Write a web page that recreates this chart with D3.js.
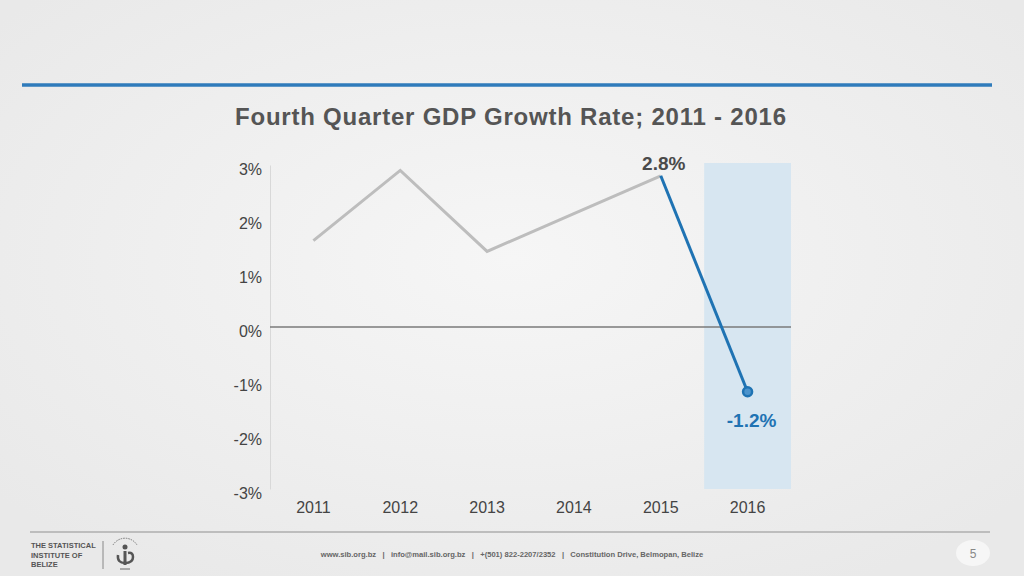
<!DOCTYPE html>
<html><head><meta charset="utf-8">
<script src="https://cdn.jsdelivr.net/npm/d3@7"></script>
<style>
html,body{margin:0;padding:0;background:#eeeeee;}
svg{display:block;font-family:"Helvetica Neue",Helvetica,"Liberation Sans",Arial,sans-serif;}
</style></head>
<body>
<svg id="c" width="1024" height="576"></svg>
<script>
const years = ["2011","2012","2013","2014","2015","2016"];
const growth = [1.6, 2.9, 1.4, 2.1, 2.8, -1.2];
const yTicks = [3, 2, 1, 0, -1, -2, -3];
const title = "Fourth Quarter GDP Growth Rate; 2011 - 2016";
const footerText = "www.sib.org.bz   |   info@mail.sib.org.bz   |   +(501) 822-2207/2352   |   Constitution Drive, Belmopan, Belize";
const pageNumber = "5";

const svg = d3.select("#c");
const defs = svg.append("defs");
const rg = defs.append("radialGradient").attr("id","bg").attr("cx","50%").attr("cy","45%").attr("r","65%");
rg.append("stop").attr("offset","0%").attr("stop-color","#f6f6f6");
rg.append("stop").attr("offset","100%").attr("stop-color","#e9e9e9");
svg.append("rect").attr("width",1024).attr("height",576).attr("fill","url(#bg)");

// top blue rule
svg.append("line").attr("x1",22).attr("x2",992).attr("y1",85).attr("y2",85)
  .attr("stroke","#2f7bbb").attr("stroke-width",3.5);

svg.append("text").attr("x",235).attr("y",125).attr("textLength",551).attr("lengthAdjust","spacing")
  .attr("font-size",24).attr("font-weight","bold").attr("fill","#555555").text(title);

const x = d3.scaleBand().domain(years).range([270, 791]);
const y = d3.scaleLinear().domain([-3, 3]).range([489, 165]);

// highlight band for 2016
svg.append("rect").attr("x", x("2016")).attr("width", x.bandwidth())
  .attr("y", y(3)-2).attr("height", y(-3)-y(3)+2).attr("fill","#d7e6f1");

// y axis
const yAxis = d3.axisLeft(y).tickValues(yTicks).tickSize(0).tickPadding(8).tickFormat(d => d + "%");
const ya = svg.append("g").attr("transform","translate(270,0)").call(yAxis);
ya.select(".domain").attr("stroke","#d8d8d8").attr("stroke-width",1);
ya.selectAll("text").attr("font-size",16).attr("fill","#444").attr("dy","0.6em")
  .attr("font-family","'Helvetica Neue',Helvetica,'Liberation Sans',Arial,sans-serif");

// zero line
svg.append("line").attr("x1",270).attr("x2",791).attr("y1",y(0)).attr("y2",y(0))
  .attr("stroke","#7a7a7a").attr("stroke-width",1.5);

// x axis labels
const xAxis = d3.axisBottom(x).tickSize(0).tickPadding(0);
const xa = svg.append("g").attr("transform","translate(0,502)").call(xAxis);
xa.select(".domain").remove();
xa.selectAll("text").attr("font-size",16).attr("fill","#444")
  .attr("font-family","'Helvetica Neue',Helvetica,'Liberation Sans',Arial,sans-serif");

const pts = years.map((yr,i)=>({yr, v:growth[i]}));
const cx = d => x(d.yr) + x.bandwidth()/2;
const line = d3.line().x(cx).y(d=>y(d.v));

svg.append("path").datum(pts.slice(0,5)).attr("d",line).attr("fill","none")
  .attr("stroke","#bdbdbd").attr("stroke-width",3).attr("stroke-linejoin","miter");
svg.append("path").datum(pts.slice(4,6)).attr("d",line).attr("fill","none")
  .attr("stroke","#1f73b3").attr("stroke-width",3);

const last = pts[5], prev = pts[4];
svg.append("circle").attr("cx",cx(last)).attr("cy",y(last.v)).attr("r",4.5)
  .attr("fill","#4b93cc").attr("stroke","#1f73b3").attr("stroke-width",2.5);

svg.append("text").attr("x",cx(prev)+3).attr("y",y(prev.v)-6).attr("text-anchor","middle")
  .attr("font-size",19).attr("font-weight","bold").attr("fill","#4a4a4a").text(prev.v.toFixed(1)+"%");
svg.append("text").attr("x",cx(last)+4).attr("y",y(last.v)+35).attr("text-anchor","middle")
  .attr("font-size",19).attr("font-weight","bold").attr("fill","#1f73b3").text(last.v.toFixed(1)+"%");

// footer
svg.append("line").attr("x1",30).attr("x2",990).attr("y1",532).attr("y2",532)
  .attr("stroke","#bdbdbd").attr("stroke-width",2);
["THE STATISTICAL","INSTITUTE OF","BELIZE"].forEach((t,i)=>{
  svg.append("text").attr("x",31).attr("y",548+i*9.5).attr("font-size",7.5).attr("font-weight","bold")
    .attr("fill","#555").text(t);
});
svg.append("line").attr("x1",103).attr("x2",103).attr("y1",541).attr("y2",569).attr("stroke","#888").attr("stroke-width",1);
// simple logo
const lg = svg.append("g").attr("transform","translate(125,553)");
lg.append("path").attr("d","M-12,-8 A14,14 0 0 1 12,-8").attr("fill","none").attr("stroke","#777").attr("stroke-width",1).attr("stroke-dasharray","1.5,1");
lg.append("circle").attr("cx",0).attr("cy",-6).attr("r",2.5).attr("fill","#555");
lg.append("rect").attr("x",-1.5).attr("y",-2).attr("width",3).attr("height",14).attr("fill","#555");
lg.append("path").attr("d","M-7,2 Q-8,10 0,10 Q8,10 8,4 Q8,-1 3,0").attr("fill","none").attr("stroke","#555").attr("stroke-width",2.5);
lg.append("line").attr("x1",-5).attr("x2",5).attr("y1",16).attr("y2",16).attr("stroke","#666").attr("stroke-width",1);

svg.append("text").attr("x",512).attr("y",557).attr("text-anchor","middle").attr("font-size",7.6)
  .attr("font-weight","bold").attr("fill","#666").attr("xml:space","preserve").style("white-space","pre").text(footerText);

svg.append("ellipse").attr("cx",973).attr("cy",553).attr("rx",17).attr("ry",13).attr("fill","#f6f6f6");
svg.append("text").attr("x",973).attr("y",558).attr("text-anchor","middle").attr("font-size",12)
  .attr("fill","#888").text(pageNumber);
</script>
</body></html>
